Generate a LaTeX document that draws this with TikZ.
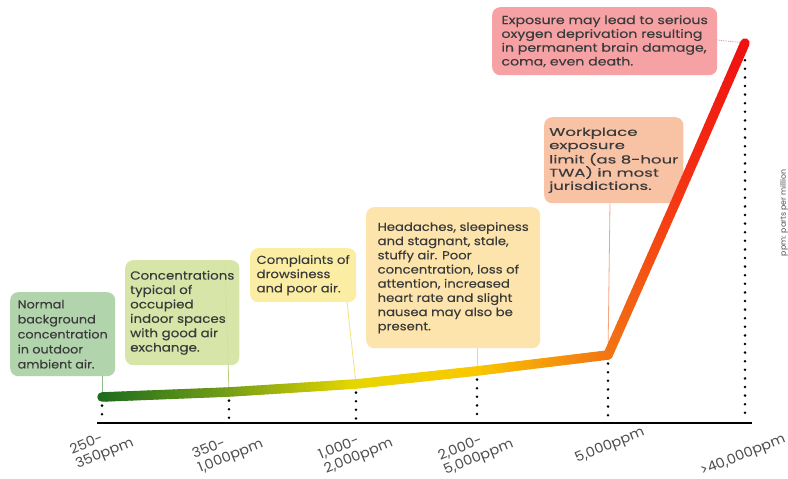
\documentclass[tikz,border=0pt]{standalone}
\usepackage{fontspec}
\setmainfont{Poppins}
\newfontfamily\fA[FakeStretch=1.1,FakeBold=0.25]{Poppins}
\newfontfamily\fB[FakeStretch=1.14,FakeBold=0.25]{Poppins}
\newfontfamily\fC[FakeStretch=1.48,FakeBold=0.25]{Poppins}
\newfontfamily\fD[FakeStretch=1.22,FakeBold=0.25]{Poppins}
\newfontfamily\fL[FakeStretch=1.06]{Poppins}
\usetikzlibrary{calc}
\definecolor{txt}{HTML}{3A3A3A}
\definecolor{lbl}{HTML}{4E4E4E}
\definecolor{gA}{RGB}{30,108,30}
\definecolor{gB}{RGB}{115,158,22}
\definecolor{gC}{RGB}{230,214,0}
\definecolor{gD}{RGB}{250,200,0}
\definecolor{gE}{RGB}{242,118,20}
\definecolor{gF}{RGB}{245,55,20}
\definecolor{gG}{RGB}{240,16,16}
\definecolor{f1}{HTML}{AAD0A5}
\definecolor{f2}{HTML}{D3E3A0}
\definecolor{f3}{HTML}{FCEC9C}
\definecolor{f4}{HTML}{FDE2A4}
\definecolor{f5}{HTML}{F8BC9C}
\definecolor{f6}{HTML}{F6989B}
\definecolor{c1}{HTML}{8CBF88}
\definecolor{c2}{HTML}{B7D07A}
\definecolor{c3}{HTML}{F6E27A}
\definecolor{c4}{HTML}{F8D48A}
\definecolor{c5}{HTML}{F3A582}
\definecolor{c6}{HTML}{F28A8C}
\newcommand{\gradpart}[4]{%
  \foreach \i in {0,...,29}{%
    \pgfmathsetmacro\ta{\i/30}%
    \pgfmathsetmacro\tb{(\i+1)/30}%
    \pgfmathtruncatemacro\pc{100-\i*100/30}%
    \draw[curveline, draw=#3!\pc!#4] ($(#1)!\ta!(#2)$) -- ($(#1)!\tb!(#2)$);
  }%
}
\tikzset{
  curveline/.style={line width=9.5pt, line cap=round},
  dotline/.style={line width=2.8pt, line cap=round, dash pattern=on 0pt off 8.6pt, black},
  axisline/.style={line width=2pt, black},
  infobox/.style={rounded corners=8pt, inner xsep=5pt, inner ysep=4pt, align=left,
    text=txt, anchor=north west, fill opacity=0.9, text opacity=1},
  conn/.style={line width=0.8pt},
  ticklabel/.style={rotate=22, align=left, font=\fL\fontsize{13.6}{15}\selectfont, text=lbl, inner sep=0pt}
}
\begin{document}
\begin{tikzpicture}[x=1pt,y=-1pt]
\useasboundingbox (0,0) rectangle (788,479);
\fill[white] (0,0) rectangle (788,479);
% curve points
\coordinate (p1) at (102,397);
\coordinate (p2) at (229,392);
\coordinate (p3) at (356,384);
\coordinate (p4) at (477,371);
\coordinate (p5) at (608,355);
\coordinate (pm) at (677,199);
\coordinate (p6) at (745,43);
% axis points
\coordinate (a1) at (102,419);
\coordinate (a2) at (229,419);
\coordinate (a3) at (356,419);
\coordinate (a4) at (477,419);
\coordinate (a5) at (608,419);
\coordinate (a6) at (745,419);
\coordinate (ax0) at (97,423);
\coordinate (ax1) at (752,423);
% connectors (behind boxes)
\draw[conn, c2] (225,262) -- (p2);
% boxes
\node[infobox, fill=f1, minimum width=105pt, minimum height=84pt, font=\fA\fontsize{11.6}{15}\selectfont] (b1) at (10,292)
  {Normal\\background\\concentration\\in outdoor\\ambient air.};
\node[infobox, fill=f2, minimum width=112pt, minimum height=105pt, font=\fB\fontsize{11.8}{14.4}\selectfont] (b2) at (125,260)
  {Concentrations\\typical of\\occupied\\indoor spaces\\with good air\\exchange.};
\node[infobox, fill=f3, minimum width=106pt, minimum height=54pt, font=\fB\fontsize{11.6}{14.2}\selectfont] (b3) at (250,248)
  {Complaints of\\drowsiness\\and poor air.};
\node[infobox, fill=f4, minimum width=174pt, minimum height=141pt, font=\fB\fontsize{11.6}{14.2}\selectfont] (b4) at (366,207)
  {Headaches, sleepiness\\and stagnant, stale,\\stuffy air. Poor\\concentration, loss of\\attention, increased\\heart rate and slight\\nausea may also be\\present.};
\node[infobox, fill=f5, minimum width=113pt, minimum height=86pt, font=\fC\fontsize{11.2}{13.2}\selectfont] (b5) at (544,117)
  {Workplace\\exposure\\limit (as 8-hour\\TWA) in most\\jurisdictions.};
\node[infobox, fill=f6, minimum width=225pt, minimum height=68pt, font=\fD\fontsize{11.6}{13.8}\selectfont] (b6) at (492,7)
  {Exposure may lead to serious\\oxygen deprivation resulting\\in permanent brain damage,\\coma, even death.};
% connectors
\coordinate (k3) at (347,302);
\draw[conn, c1] (b1.south -| p1) -- (p1);
\draw[conn, c3] (k3) -- (p3);
\draw[conn, c4] (b4.south -| p4) -- (p4);
\draw[conn, c5] (b5.south -| 610,0) -- (p5);
\draw[conn, c6, densely dotted] (b6.east |- 0,40) -- (p6);
% dotted lines
\foreach \k in {1,...,6}{\draw[dotline] (p\k) -- (a\k);}
\draw[axisline] (ax0) -- (ax1);
% gradient curve
\gradpart{p1}{p2}{gA}{gB}
\gradpart{p2}{p3}{gB}{gC}
\gradpart{p3}{p4}{gC}{gD}
\gradpart{p4}{p5}{gD}{gE}
\gradpart{p5}{pm}{gE}{gF}
\gradpart{pm}{p6}{gF}{gG}
% tick labels
\node[ticklabel] (l1) at (102,447) {250-\\350ppm};
\node[ticklabel] (l2) at (228,450) {350-\\1,000ppm};
\node[ticklabel] (l3) at (356,450) {1,000-\\2,000ppm};
\node[ticklabel] (l4) at (476,451) {2,000-\\5,000ppm};
\node[ticklabel] (l5) at (610,446) {5,000ppm};
\node[ticklabel] (l6) at (743,456) {>40,000ppm};
\node[rotate=90, font=\fontsize{7.8}{8}\selectfont, text=lbl, inner sep=0pt] (unit) at (784,213) {ppm: parts per million};
\end{tikzpicture}
\end{document}
